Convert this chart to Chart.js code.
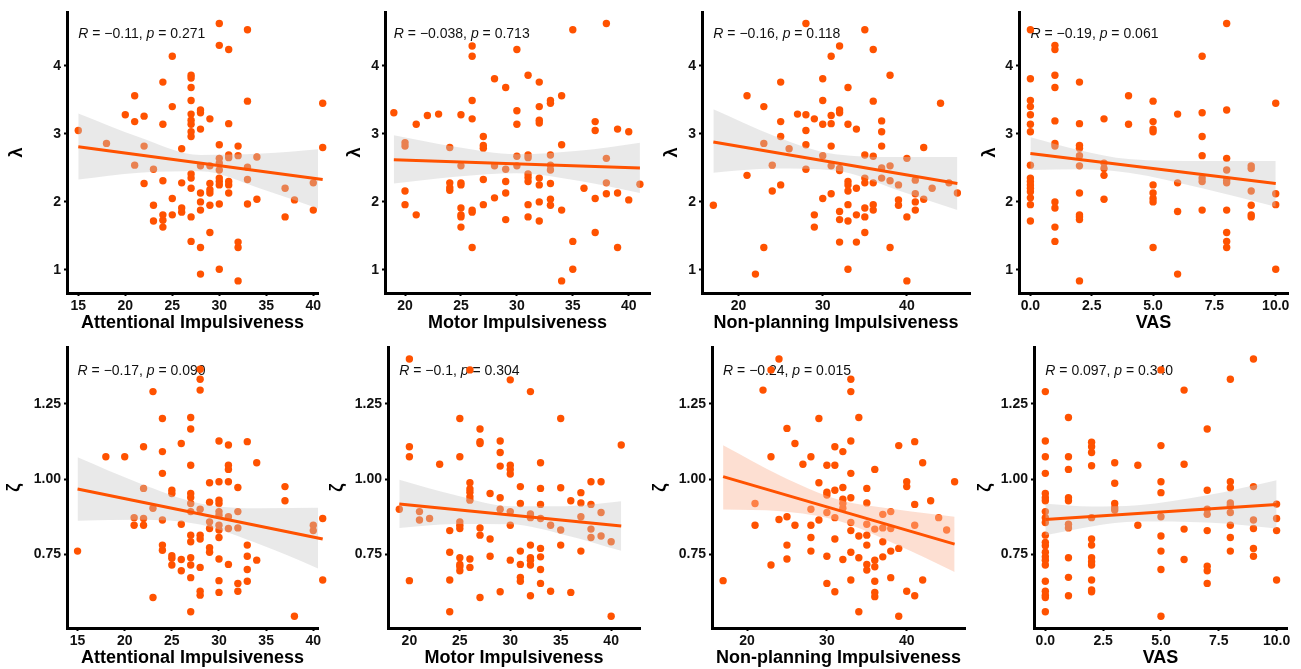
<!DOCTYPE html>
<html>
<head>
<meta charset="utf-8">
<script src="https://cdn.jsdelivr.net/npm/chart.js@4.4.1/dist/chart.umd.min.js"></script>
<style>
  html, body { margin: 0; padding: 0; background: #fff; }
  body { width: 1301px; height: 669px; position: relative; overflow: hidden; }
  canvas { position: absolute; }
</style>
</head>
<body>
<script>
// ---- tick values / labels ----
const lambdaTicks = [1, 2, 3, 4];
const lambdaTickLabels = ['1', '2', '3', '4'];
const zetaTicks = [0.75, 1.0, 1.25];
const zetaTickLabels = ['0.75', '1.00', '1.25'];
const attnTicks = [15, 20, 25, 30, 35, 40];
const motorTicks = [20, 25, 30, 35, 40];
const nonplanTicks = [20, 30, 40];
const vasTicks = [0, 2.5, 5, 7.5, 10];
const vasTickLabels = ['0.0', '2.5', '5.0', '7.5', '10.0'];

// ---- lambda vs scores (x, y) ----
const lambdaAttn = [
  [15,3.05],[18,2.86],[20,3.28],[21,3.56],[21,3.18],[21,2.54],[22,3.26],[22,2.82],[22,2.27],
  [23,2.48],[23,1.95],[23,1.72],[24,3.76],[24,3.14],[24,2.31],[24,1.81],[24,1.73],[24,1.63],
  [25,4.14],[25,3.40],[25,2.05],[25,1.81],[26,2.78],[26,2.28],[26,1.91],[26,1.85],
  [27,3.86],[27,3.82],[27,3.68],[27,3.49],[27,3.29],[27,3.20],[27,3.14],[27,3.03],[27,2.96],[27,2.41],[27,2.35],[27,2.20],[27,1.78],[27,1.42],
  [28,3.35],[28,3.31],[28,3.07],[28,2.53],[28,2.13],[28,2.00],[28,1.88],[28,1.33],[28,0.94],
  [29,3.22],[29,2.53],[29,2.27],[29,2.18],[29,2.13],[29,1.95],[29,1.55],
  [30,4.62],[30,4.30],[30,2.84],[30,2.64],[30,2.57],[30,2.47],[30,2.35],[30,2.30],[30,2.25],[30,1.97],[30,1.01],
  [31,4.24],[31,3.15],[31,2.69],[31,2.65],[31,2.30],[31,2.25],[31,2.13],
  [32,2.82],[32,2.68],[32,1.41],[32,1.33],[32,0.84],[33,4.53],[33,3.48],[33,2.51],[33,2.33],[33,1.97],
  [34,2.66],[34,2.04],[37,2.20],[37,1.78],[38,2.03],[40,2.28],[40,1.88],[41,3.45],[41,2.80]
];
const lambdaMotor = [
  [19,3.31],[20,2.87],[20,2.82],[20,2.16],[20,1.96],[21,3.14],[21,1.81],[22,3.27],[23,3.29],
  [24,2.80],[24,2.28],[24,2.21],[24,2.17],[25,3.28],[25,2.53],[25,2.28],[25,2.25],[25,1.91],[25,1.81],[25,1.78],[25,1.63],
  [26,4.29],[26,4.14],[26,3.49],[26,3.22],[26,1.88],[26,1.85],[26,1.33],[27,2.96],[27,2.83],[27,2.79],[27,2.33],[27,1.96],
  [28,3.81],[28,2.53],[28,2.06],[29,3.68],[29,2.48],[29,2.30],[29,2.13],[29,1.74],
  [30,4.24],[30,3.34],[30,3.14],[30,2.67],[30,2.53],[31,3.86],[31,2.69],[31,2.65],[31,2.41],[31,2.36],[31,2.30],[31,1.96],[31,1.78],
  [32,3.76],[32,3.40],[32,3.20],[32,3.16],[32,2.35],[32,2.25],[32,2.00],[32,1.72],
  [33,3.49],[33,3.45],[33,2.69],[33,2.54],[33,2.47],[33,2.27],[33,2.04],[33,1.95],
  [34,3.56],[34,2.84],[34,1.88],[34,0.84],[35,4.53],[35,1.42],[35,1.01],[36,2.20],
  [37,3.18],[37,3.05],[37,2.05],[37,1.55],[38,4.62],[38,2.64],[38,2.28],[38,2.12],
  [39,3.07],[39,2.13],[39,1.33],[40,3.03],[40,2.03],[41,2.26]
];
const lambdaNonplan = [
  [17,1.95],[21,3.56],[21,2.39],[22,0.94],[23,3.40],[23,2.86],[23,1.33],[24,2.54],[24,2.16],
  [25,3.76],[25,3.18],[25,2.96],[25,2.25],[26,2.78],[27,3.29],[28,4.62],[28,3.28],[28,3.05],[28,2.84],[28,2.48],
  [29,3.22],[29,1.81],[29,1.63],[30,3.81],[30,3.49],[30,3.14],[30,2.68],[30,2.05],
  [31,4.14],[31,3.27],[31,3.15],[31,2.82],[31,2.53],[31,2.12],
  [32,4.29],[32,3.35],[32,3.31],[32,2.49],[32,2.46],[32,1.86],[32,1.74],[32,1.41],
  [33,3.68],[33,3.14],[33,2.30],[33,2.25],[33,2.16],[33,1.96],[33,1.72],[33,1.01],
  [34,3.07],[34,2.20],[34,1.81],[34,1.41],[35,4.53],[35,2.69],[35,2.35],[35,2.28],[35,1.91],[35,1.78],[35,1.55],
  [36,4.24],[36,3.48],[36,2.67],[36,2.28],[36,1.96],[36,1.88],[37,3.19],[37,3.03],[37,2.82],[37,2.50],[37,2.35],
  [38,3.86],[38,2.53],[38,2.31],[38,1.33],[39,2.25],[39,2.03],[39,1.95],[40,2.64],[40,1.78],[40,0.84],
  [41,2.32],[41,2.12],[41,2.00],[41,1.88],[42,2.80],[42,2.04],[43,2.20],[44,3.45],[45,2.28],[46,2.13]
];
const lambdaVas = [
  [0,4.53],[0,3.81],[0,3.49],[0,3.40],[0,3.28],[0,3.14],[0,3.03],[0,2.54],[0,2.35],[0,2.30],[0,2.25],[0,2.20],[0,2.15],[0,2.06],[0,1.96],[0,1.72],
  [1,4.30],[1,4.24],[1,3.86],[1,3.68],[1,3.19],[1,2.86],[1,2.82],[1,2.00],[1,1.91],[1,1.63],[1,1.42],
  [2,3.76],[2,3.15],[2,2.83],[2,2.79],[2,2.68],[2,2.53],[2,2.13],[2,1.81],[2,1.78],[2,1.74],[2,0.84],
  [3,3.22],[3,2.57],[3,2.49],[3,2.39],[3,2.04],[4,3.56],[4,3.14],
  [5,3.48],[5,3.18],[5,3.07],[5,3.03],[5,2.25],[5,2.13],[5,2.05],[5,2.00],[5,1.33],
  [6,3.29],[6,2.28],[6,1.86],[6,0.94],[7,4.14],[7,3.31],[7,2.96],[7,2.68],[7,2.35],[7,2.30],[7,1.88],
  [8,4.62],[8,3.35],[8,2.64],[8,2.47],[8,2.32],[8,2.28],[8,1.88],[8,1.55],[8,1.42],[8,1.33],
  [9,2.53],[9,2.49],[9,2.16],[9,1.95],[9,1.81],[9,1.78],[10,3.45],[10,2.12],[10,1.96],[10,1.01]
];

// ---- zeta vs scores (x, y) ----
const zetaAttn = [
  [15,0.761],[18,1.074],[20,1.074],[21,0.872],[21,0.847],[22,1.107],[22,0.969],[22,0.869],[22,0.847],
  [23,1.290],[23,0.903],[23,0.607],[24,1.201],[24,1.091],[24,1.019],[24,0.864],[24,0.781],[24,0.764],
  [25,0.963],[25,0.952],[25,0.746],[25,0.737],[25,0.715],[26,1.118],[26,0.850],[26,0.733],[26,0.696],
  [27,1.204],[27,1.166],[27,1.046],[27,0.952],[27,0.939],[27,0.919],[27,0.892],[27,0.814],[27,0.792],[27,0.739],[27,0.715],[27,0.673],[27,0.560],
  [28,1.364],[28,1.331],[28,1.295],[28,0.900],[28,0.814],[28,0.801],[28,0.707],[28,0.628],[28,0.615],
  [29,0.988],[29,0.923],[29,0.858],[29,0.836],[29,0.772],[29,0.757],
  [30,1.126],[30,0.991],[30,0.930],[30,0.919],[30,0.892],[30,0.880],[30,0.847],[30,0.831],[30,0.806],[30,0.735],[30,0.663],[30,0.624],
  [31,1.113],[31,1.046],[31,1.032],[31,0.991],[31,0.875],[31,0.836],[31,0.717],
  [32,0.972],[32,0.892],[32,0.838],[32,0.654],[32,0.628],[33,1.124],[33,0.781],[33,0.744],[33,0.700],[33,0.661],
  [34,1.054],[34,0.731],[37,0.975],[37,0.928],[38,0.545],[40,0.847],[40,0.829],[41,0.869],[41,0.665]
];
const zetaMotor = [
  [19,0.900],[20,1.398],[20,1.107],[20,1.074],[20,0.663],[21,0.892],[21,0.864],[22,0.869],[23,1.049],
  [24,0.829],[24,0.757],[24,0.665],[24,0.560],[25,1.201],[25,1.074],[25,0.858],[25,0.847],[25,0.836],[25,0.739],[25,0.717],[25,0.709],[25,0.696],
  [26,1.362],[26,0.988],[26,0.967],[26,0.956],[26,0.941],[26,0.930],[26,0.735],[26,0.707],
  [27,1.166],[27,1.124],[27,1.118],[27,0.838],[27,0.814],[27,0.607],[28,0.952],[28,0.801],[28,0.744],
  [29,1.126],[29,1.088],[29,1.043],[29,0.938],[29,0.900],[29,0.626],
  [30,1.329],[30,1.046],[30,1.032],[30,1.017],[30,0.892],[30,0.847],[30,0.731],
  [31,0.975],[31,0.919],[31,0.761],[31,0.717],[31,0.674],[31,0.661],
  [32,1.290],[32,0.884],[32,0.872],[32,0.781],[32,0.739],[32,0.731],[32,0.715],[32,0.613],
  [33,1.054],[33,0.969],[33,0.916],[33,0.869],[33,0.770],[33,0.742],[33,0.700],[33,0.654],
  [34,0.847],[34,0.628],[35,1.201],[35,0.971],[35,0.831],[35,0.781],[36,0.928],[36,0.624],
  [37,0.955],[37,0.921],[37,0.875],[37,0.761],[38,0.991],[38,0.916],[38,0.834],[38,0.806],
  [39,0.991],[39,0.889],[39,0.811],[40,0.792],[40,0.545],[41,1.113]
];
const zetaNonplan = [
  [17,0.663],[21,0.919],[21,0.847],[22,1.295],[23,1.362],[23,1.074],[23,0.715],[24,1.398],[24,0.866],
  [25,1.168],[25,0.875],[25,0.781],[25,0.735],[26,1.118],[26,0.847],[27,1.049],
  [28,1.074],[28,0.900],[28,0.847],[28,0.806],[28,0.761],[29,1.201],[29,0.988],[29,0.864],
  [30,1.046],[30,0.956],[30,0.947],[30,0.889],[30,0.744],[30,0.654],
  [31,1.107],[31,1.046],[31,0.963],[31,0.872],[31,0.801],[31,0.626],
  [32,1.091],[32,0.972],[32,0.933],[32,0.919],[32,0.903],[32,0.733],
  [33,1.331],[33,1.290],[33,1.126],[33,1.019],[33,0.938],[33,0.856],[33,0.829],[33,0.757],[33,0.665],
  [34,1.204],[34,0.811],[34,0.739],[34,0.560],
  [35,0.969],[35,0.921],[35,0.850],[35,0.814],[35,0.781],[35,0.717],[35,0.698],
  [36,1.032],[36,0.834],[36,0.731],[36,0.709],[36,0.661],[36,0.624],[36,0.610],
  [37,0.883],[37,0.838],[37,0.792],[37,0.742],[38,0.892],[38,0.836],[38,0.761],[38,0.673],
  [39,1.111],[39,0.770],[39,0.545],[40,0.991],[40,0.975],[40,0.628],
  [41,1.124],[41,0.916],[41,0.847],[41,0.613],[42,1.054],[42,0.665],[43,0.928],[44,0.872],[45,0.831],[46,0.991]
];
const zetaVas = [
  [0,1.290],[0,1.126],[0,1.074],[0,1.019],[0,0.952],[0,0.938],[0,0.928],[0,0.892],[0,0.872],[0,0.856],[0,0.814],
  [0,0.790],[0,0.779],[0,0.757],[0,0.742],[0,0.731],[0,0.715],[0,0.661],[0,0.628],[0,0.615],[0,0.607],[0,0.560],
  [1,1.204],[1,1.074],[1,1.032],[1,0.938],[1,0.928],[1,0.850],[1,0.838],[1,0.739],[1,0.674],[1,0.613],
  [2,1.122],[2,1.107],[2,1.088],[2,1.044],[2,0.872],[2,0.801],[2,0.781],[2,0.739],[2,0.726],[2,0.715],[2,0.665],[2,0.632],[2,0.626],
  [3,1.054],[3,0.986],[3,0.919],[3,0.905],[3,0.897],[4,1.046],[4,0.847],
  [5,1.362],[5,1.111],[5,0.991],[5,0.955],[5,0.875],[5,0.811],[5,0.761],[5,0.700],[5,0.545],
  [6,1.295],[6,1.049],[6,0.834],[6,0.733],
  [7,1.166],[7,0.963],[7,0.900],[7,0.883],[7,0.829],[7,0.711],[7,0.696],[7,0.654],
  [8,1.331],[8,0.991],[8,0.971],[8,0.921],[8,0.912],[8,0.889],[8,0.847],[8,0.806],[8,0.761],
  [9,1.398],[9,0.975],[9,0.864],[9,0.836],[9,0.770],[9,0.744],
  [10,0.917],[10,0.869],[10,0.829],[10,0.665]
];

// ---- fitted lines [x, y] and 95% bands [x, lower, upper] ----
const lambdaAttnFit = [[15, 2.81], [41, 2.33]];
const lambdaAttnBand = [[15,2.33,3.30],[21.5,2.43,2.95],[28,2.45,2.69],[34.5,2.19,2.71],[41,1.88,2.78]];
const lambdaMotorFit = [[19, 2.62], [41, 2.50]];
const lambdaMotorBand = [[19,2.27,2.98],[24.5,2.37,2.81],[30,2.42,2.70],[35.5,2.31,2.75],[41,2.13,2.87]];
const lambdaNonplanFit = [[17, 2.88], [46, 2.27]];
const lambdaNonplanBand = [[17,2.43,3.36],[24.25,2.49,2.97],[31.5,2.46,2.70],[38.75,2.18,2.66],[46,1.88,2.66]];
const lambdaVasFit = [[0, 2.71], [10, 2.27]];
const lambdaVasBand = [[0,2.47,2.95],[2,2.48,2.76],[4,2.43,2.63],[7,2.20,2.60],[10,1.93,2.60]];
const zetaAttnFit = [[15, 0.967], [41, 0.801]];
const zetaAttnBand = [[15,0.862,1.072],[21.5,0.865,0.987],[28,0.849,0.919],[34.5,0.781,0.903],[41,0.697,0.905]];
const zetaMotorFit = [[19, 0.917], [41, 0.844]];
const zetaMotorBand = [[19,0.838,0.998],[24.5,0.851,0.947],[30,0.850,0.910],[35.5,0.814,0.910],[41,0.762,0.926]];
const zetaNonplanFit = [[17, 1.008], [46, 0.784]];
const zetaNonplanBand = [[17,0.899,1.112],[24.25,0.893,1.010],[31.5,0.861,0.931],[38.75,0.782,0.899],[46,0.692,0.875]];
const zetaVasFit = [[0, 0.866], [10, 0.916]];
const zetaVasBand = [[0,0.814,0.918],[2,0.843,0.909],[4,0.859,0.913],[7,0.856,0.946],[10,0.836,0.996]];

// ---- correlation labels ----
const statR = ['\u22120.11', '\u22120.038', '\u22120.16', '\u22120.19', '\u22120.17', '\u22120.1', '\u22120.24', '0.097'];
const statP = ['0.271', '0.713', '0.118', '0.061', '0.090', '0.304', '0.015', '0.340'];

const ORANGE = '#FF5200';
const GREY_BAND = 'rgba(200,200,200,0.4)';
const PEACH_BAND = 'rgba(250,185,155,0.45)';
const FONT = '"Liberation Sans", Arial, Helvetica, sans-serif';

// layout of each panel's plotting area in page pixels
const panels = [
  { pts: lambdaAttn, fit: lambdaAttnFit, band: lambdaAttnBand, xTicks: attnTicks, xLabels: attnTicks.map(String),
    xTitle: 'Attentional Impulsiveness', yTitle: '\u03bb', row: 0, L: 67, R: 318, xMin: 13.8, xMax: 40.5, gap: 50, labelX: 15 },
  { pts: lambdaMotor, fit: lambdaMotorFit, band: lambdaMotorBand, xTicks: motorTicks, xLabels: motorTicks.map(String),
    xTitle: 'Motor Impulsiveness', yTitle: '\u03bb', row: 0, L: 385, R: 650, xMin: 18.21, xMax: 41.9, gap: 30, labelX: 19 },
  { pts: lambdaNonplan, fit: lambdaNonplanFit, band: lambdaNonplanBand, xTicks: nonplanTicks, xLabels: nonplanTicks.map(String),
    xTitle: 'Non-planning Impulsiveness', yTitle: '\u03bb', row: 0, L: 702, R: 970, xMin: 15.65, xMax: 47.5, gap: 30, labelX: 17 },
  { pts: lambdaVas, fit: lambdaVasFit, band: lambdaVasBand, xTicks: vasTicks, xLabels: vasTickLabels,
    xTitle: 'VAS', yTitle: '\u03bb', row: 0, L: 1019, R: 1288, xMin: -0.465, xMax: 10.5, gap: 29, labelX: 0 },
  { pts: zetaAttn, fit: zetaAttnFit, band: zetaAttnBand, xTicks: attnTicks, xLabels: attnTicks.map(String),
    xTitle: 'Attentional Impulsiveness', yTitle: '\u03b6', row: 1, L: 67, R: 318, xMin: 13.88, xMax: 40.5, gap: 53, labelX: 15 },
  { pts: zetaMotor, fit: zetaMotorFit, band: zetaMotorBand, xTicks: motorTicks, xLabels: motorTicks.map(String),
    xTitle: 'Motor Impulsiveness', yTitle: '\u03b6', row: 1, L: 388, R: 640, xMin: 17.88, xMax: 42.86, gap: 51, labelX: 19 },
  { pts: zetaNonplan, fit: zetaNonplanFit, band: zetaNonplanBand, xTicks: nonplanTicks, xLabels: nonplanTicks.map(String),
    xTitle: 'Non-planning Impulsiveness', yTitle: '\u03b6', row: 1, L: 712, R: 965, xMin: 15.61, xMax: 47.3, gap: 52, labelX: 17, peach: true },
  { pts: zetaVas, fit: zetaVasFit, band: zetaVasBand, xTicks: vasTicks, xLabels: vasTickLabels,
    xTitle: 'VAS', yTitle: '\u03b6', row: 1, L: 1034, R: 1287, xMin: -0.49, xMax: 10.45, gap: 49, labelX: 0 }
];

const rows = [
  { T: 12, B: 293, yMin: 0.662, yMax: 4.79, ticks: lambdaTicks, labels: lambdaTickLabels, labelY: 4.47 },
  { T: 347, B: 628, yMin: 0.506, yMax: 1.438, ticks: zetaTicks, labels: zetaTickLabels, labelY: 1.358 }
];

const Y_W = 62, X_H = 41, PAD_T = 4, PAD_R = 14;

// draws "R = .., p = .." with italic R and p
const statText = {
  id: 'statText',
  beforeDatasetsDraw(chart, args, opts) {
    const { ctx, scales } = chart;
    let x = scales.x.getPixelForValue(opts.x);
    const y = scales.y.getPixelForValue(opts.y);
    const parts = [['R', true], [' = ' + opts.r + ', ', false], ['p', true], [' = ' + opts.p, false]];
    ctx.save();
    ctx.fillStyle = '#111';
    ctx.textBaseline = 'middle';
    parts.forEach(([t, it]) => {
      ctx.font = (it ? 'italic ' : '') + '14px ' + FONT;
      ctx.fillText(t, x, y);
      x += ctx.measureText(t).width;
    });
    ctx.restore();
  }
};

panels.forEach((p, i) => {
  const row = rows[p.row];
  const cv = document.createElement('canvas');
  const w = Y_W + (p.R - p.L) + PAD_R;
  const h = PAD_T + (row.B - row.T) + X_H;
  cv.width = w; cv.height = h;
  cv.style.left = (p.L - Y_W) + 'px';
  cv.style.top = (row.T - PAD_T) + 'px';
  cv.style.width = w + 'px'; cv.style.height = h + 'px';
  document.body.appendChild(cv);

  const titleLH = 18 * 1.2;

  new Chart(cv, {
    type: 'scatter',
    data: {
      datasets: [
        { // fitted line
          data: p.fit.map(d => ({ x: d[0], y: d[1] })),
          showLine: true, borderColor: ORANGE, borderWidth: 3, pointRadius: 0, clip: false, order: 0
        },
        { // band upper
          data: p.band.map(d => ({ x: d[0], y: d[2] })),
          showLine: true, borderWidth: 0, borderColor: 'rgba(0,0,0,0)', pointRadius: 0,
          fill: '+1', backgroundColor: p.peach ? PEACH_BAND : GREY_BAND,
          cubicInterpolationMode: 'monotone', clip: false, order: 1
        },
        { // band lower
          data: p.band.map(d => ({ x: d[0], y: d[1] })),
          showLine: true, borderWidth: 0, borderColor: 'rgba(0,0,0,0)', pointRadius: 0,
          cubicInterpolationMode: 'monotone', clip: false, order: 2
        },
        { // observations (descending x and a wide transparent border so points past the axis end still draw)
          data: p.pts.map(d => ({ x: d[0], y: d[1] })).reverse(),
          pointRadius: 3.7, pointBackgroundColor: ORANGE,
          pointBorderWidth: 8, pointBorderColor: 'rgba(0,0,0,0)', borderColor: ORANGE,
          clip: false, order: 3
        }
      ]
    },
    options: {
      responsive: false,
      animation: false,
      devicePixelRatio: 1,
      events: [],
      layout: { autoPadding: false, padding: { left: 0, top: PAD_T, right: PAD_R, bottom: 0 } },
      plugins: {
        legend: { display: false },
        tooltip: { enabled: false },
        statText: { x: p.labelX, y: row.labelY, r: statR[i], p: statP[i] }
      },
      scales: {
        x: {
          type: 'linear', min: p.xMin, max: p.xMax,
          afterBuildTicks: s => { s.ticks = p.xTicks.map(v => ({ value: v })); },
          afterFit: s => { s.height = X_H; s.paddingLeft = 0; s.paddingRight = 0; },
          ticks: {
            callback: (v, idx) => p.xLabels[idx], autoSkip: false, maxRotation: 0,
            color: '#111', padding: 2, font: { family: FONT, size: 14, weight: 'bold' }
          },
          grid: { drawOnChartArea: false, drawTicks: true, tickLength: 3, tickWidth: 2, tickColor: '#000' },
          border: { display: true, color: '#000', width: 3 },
          title: {
            display: true, text: p.xTitle, color: '#000',
            font: { family: FONT, size: 18, weight: 'bold' }, padding: { top: 0, bottom: 0 }
          }
        },
        y: {
          type: 'linear', min: row.yMin, max: row.yMax,
          afterBuildTicks: s => { s.ticks = row.ticks.map(v => ({ value: v })); },
          afterFit: s => { s.width = Y_W; s.paddingTop = 0; s.paddingBottom = 0; },
          ticks: {
            callback: (v, idx) => row.labels[idx], autoSkip: false,
            color: '#111', padding: 3, font: { family: FONT, size: 14, weight: 'bold' }
          },
          grid: { drawOnChartArea: false, drawTicks: true, tickLength: 3, tickWidth: 2, tickColor: '#000' },
          border: { display: true, color: '#000', width: 3 },
          title: {
            display: true, text: p.yTitle, color: '#000',
            font: { family: FONT, size: 18, weight: 'bold' },
            padding: { top: Y_W - p.gap - titleLH / 2, bottom: 0 }
          }
        }
      }
    },
    plugins: [statText]
  });
});
</script>
</body>
</html>
